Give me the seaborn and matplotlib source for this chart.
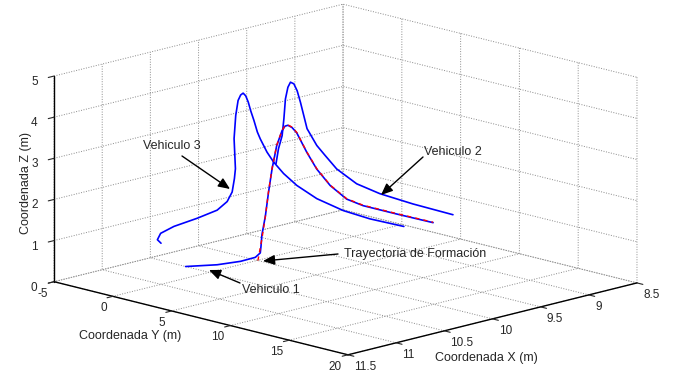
import matplotlib
matplotlib.use("Agg")
import matplotlib.pyplot as plt
import seaborn as sns
import pandas as pd
from matplotlib.patches import FancyArrowPatch

# ---------------- data ----------------
form_x = [10.0, 10.0, 10.0, 10.0, 10.0, 10.0, 10.0, 10.0, 10.0, 10.0, 10.0,
          10.0, 10.0, 10.0, 10.0, 10.0, 10.0, 10.0]
form_y = [0.05, 0.4, 0.7, 0.95, 1.25, 1.65, 2.1, 2.35, 2.6, 2.95, 3.35,
          4.2, 5.05, 6.2, 7.6, 9.0, 11.8, 14.95]
form_z = [0.0, 0.57, 1.15, 1.74, 2.32, 2.92, 3.31, 3.44, 3.48, 3.45, 3.35,
          2.94, 2.59, 2.27, 2.04, 1.98, 1.98, 1.99]

v1_x = [10.5, 10.3, 10.15, 10.05, 10.0, 10.0, 10.0, 10.0, 10.0, 10.0, 10.0,
        10.0, 10.0, 10.0, 10.0, 10.0, 10.0, 10.0, 10.0, 10.0, 10.0, 10.0, 10.0]
v1_y = [-2.0, -0.96, -0.2, 0.24, 0.25, 0.31, 0.39, 0.68, 0.95, 1.25, 1.65,
        2.1, 2.35, 2.6, 2.95, 3.35, 4.2, 5.05, 6.2, 7.6, 9.0, 11.8, 14.95]
v1_z = [0.0, 0.0, 0.05, 0.12, 0.2, 0.36, 0.65, 1.12, 1.72, 2.31, 2.91,
        3.3, 3.43, 3.47, 3.44, 3.34, 2.93, 2.58, 2.26, 2.03, 1.97, 1.97, 1.98]

v2_x = [9.8, 9.8, 9.8, 9.8, 9.8, 9.8, 9.8, 9.8, 9.8, 9.8,
        9.8, 9.8, 9.8, 9.8, 9.8, 9.8, 9.8, 9.8, 9.8]
v2_y = [-0.05, 0.16, 0.47, 0.62, 0.75, 0.96, 1.18, 1.47, 1.75, 2.03,
        2.31, 2.59, 3.42, 4.12, 5.11, 6.81, 8.78, 11.6, 15.0]
v2_z = [2.23, 2.61, 2.95, 3.37, 3.86, 4.16, 4.30, 4.28, 4.13, 3.87,
        3.57, 3.27, 2.92, 2.73, 2.47, 2.23, 2.13, 2.08, 2.06]

v3_x = [11.0, 10.98, 10.95, 10.9, 10.78, 10.62, 10.5, 10.42, 10.36, 10.33,
        10.3, 10.3, 10.3, 10.3, 10.3, 10.3, 10.3, 10.3, 10.3, 10.3,
        10.3, 10.3, 10.3, 10.3, 10.3, 10.3, 10.3, 10.3, 10.3]
v3_y = [0.0, -0.47, -0.44, 0.28, 1.28, 1.66, 1.53, 1.30, 1.0, 0.84,
        0.48, 0.62, 0.82, 1.04, 1.25, 1.47, 1.69, 1.89, 2.17, 2.46,
        2.71, 3.28, 3.84, 4.69, 5.82, 7.52, 9.77, 12.03, 14.92]
v3_z = [1.0, 1.04, 1.18, 1.37, 1.57, 1.70, 1.83, 2.0, 2.27, 2.48,
        3.17, 3.74, 4.12, 4.27, 4.33, 4.28, 4.14, 3.95, 3.73, 3.47,
        3.32, 3.04, 2.84, 2.62, 2.41, 2.21, 2.08, 2.04, 2.06]

x_ticks = [8.5, 9, 9.5, 10, 10.5, 11, 11.5]
x_ticklabels = ["8.5", "9", "9.5", "10", "10.5", "11", "11.5"]
y_ticks = [-5, 0, 5, 10, 15, 20]
y_ticklabels = ["-5", "0", "5", "10", "15", "20"]
z_ticks = [0, 1, 2, 3, 4, 5]
z_ticklabels = ["0", "1", "2", "3", "4", "5"]

frames = []
for name, xs, ys, zs in [("Vehiculo 1", v1_x, v1_y, v1_z),
                         ("Vehiculo 2", v2_x, v2_y, v2_z),
                         ("Vehiculo 3", v3_x, v3_y, v3_z),
                         ("Formacion", form_x, form_y, form_z)]:
    frames.append(pd.DataFrame({"serie": name, "x": xs, "y": ys, "z": zs}))
df = pd.concat(frames, ignore_index=True)

# ---------------- style ----------------
sns.set_style("white")
plt.rcParams.update({
    "font.family": ["Liberation Sans", "DejaVu Sans"],
    "grid.color": "#8a8a8a",
    "grid.linestyle": ":",
    "grid.linewidth": 0.7,
    "axes.edgecolor": "black",
    "axes.linewidth": 1.0,
})

palette = {"Vehiculo 1": "#0000ff", "Vehiculo 2": "#0000ff",
           "Vehiculo 3": "#0000ff", "Formacion": "#ff0000"}

W, H = 684, 371
fig = plt.figure(figsize=(W / 100, H / 100), dpi=100)
S = 630
cx, cy = 337, 183
ax = fig.add_axes([(cx - S / 2) / W, (cy - S / 2) / H, S / W, S / H],
                  projection="3d", proj_type="ortho", computed_zorder=False)
ax.set_box_aspect((410, 417, 213), zoom=0.956)
ax.view_init(elev=14.4, azim=45)
ax.set_xlim(8.5, 11.5)
ax.set_ylim(-5, 20)
ax.set_zlim(0, 5)

for axis in (ax.xaxis, ax.yaxis, ax.zaxis):
    axis.set_pane_color((1, 1, 1, 0))
    axis.line.set_color("black")
    axis.line.set_linewidth(1.0)
    axis._axinfo["grid"].update({"color": "#8a8a8a", "linewidth": 0.7,
                                 "linestyle": (0, (1.0, 1.6))})
    axis._axinfo["tick"]["inward_factor"] = 0.25
    axis._axinfo["tick"]["outward_factor"] = 0.0

ax.set_xticks(x_ticks)
ax.set_xticklabels(x_ticklabels, fontsize=8.5, ha="left")
ax.set_yticks(y_ticks)
ax.set_yticklabels(y_ticklabels, fontsize=8.5, ha="right")
ax.set_zticks(z_ticks)
ax.set_zticklabels(z_ticklabels, fontsize=8.5)
ax.tick_params(axis="x", pad=-3)
ax.tick_params(axis="y", pad=-3)
ax.tick_params(axis="z", pad=0)

for name in ["Vehiculo 1", "Vehiculo 2", "Vehiculo 3"]:
    d = df[df["serie"] == name]
    ax.plot(d["x"], d["y"], d["z"], color=palette[name], lw=1.2, zorder=3)
d = df[df["serie"] == "Formacion"]
ax.plot(d["x"], d["y"], d["z"], color=palette["Formacion"], lw=1.0,
        linestyle=(0, (3, 3)), zorder=4)


def P(px, py):
    return (px / W, 1 - py / H)


# axis labels
fig.text(*P(26, 183), "Coordenada Z (m)", rotation=90, ha="center", va="center", fontsize=9)
fig.text(*P(130, 336), "Coordenada Y (m)", ha="center", va="center", fontsize=9)
fig.text(*P(486, 358), "Coordenada X (m)", ha="center", va="center", fontsize=9)

# annotations
notes = [("Vehiculo 3", (143, 146), (182, 156), (230, 189)),
         ("Vehiculo 2", (424, 152), (423, 157), (381, 195)),
         ("Trayectoria de Formación", (344, 254), (338, 254), (263, 261)),
         ("Vehiculo 1", (242, 290), (240, 283), (209, 270))]
for txt, tpos, tail, head in notes:
    fig.text(*P(*tpos), txt, ha="left", va="center", fontsize=9)
    arr = FancyArrowPatch(P(*tail), P(*head), transform=fig.transFigure,
                          arrowstyle="-|>,head_length=0.7,head_width=0.3",
                          mutation_scale=10, color="black", lw=1.0,
                          shrinkA=0, shrinkB=0)
    fig.add_artist(arr)

fig.savefig("out.png", dpi=100)
